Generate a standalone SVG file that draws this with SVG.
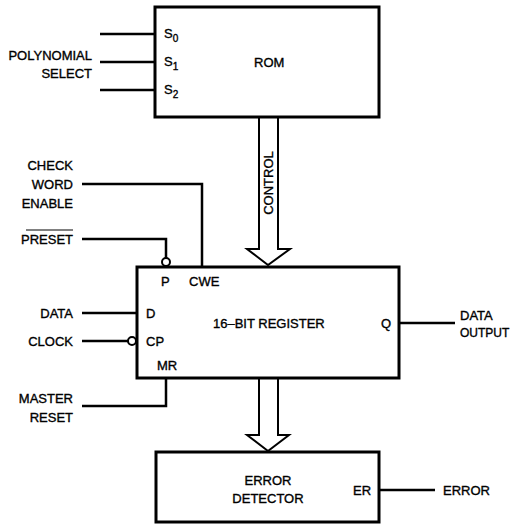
<svg xmlns="http://www.w3.org/2000/svg" width="513" height="528" viewBox="0 0 513 528">
<style>
text{font-family:"Liberation Sans",Arial,sans-serif;font-size:13px;fill:#000;stroke:#000;stroke-width:0.35}
.box{fill:#fff;stroke:#000;stroke-width:3}
.w{fill:none;stroke:#000;stroke-width:2.5}
.bus{fill:#fff;stroke:#000;stroke-width:2}
.inv{fill:#fff;stroke:#000;stroke-width:2}
.e{text-anchor:end}
.m{text-anchor:middle}
.sub{font-size:10px}
.sm{font-size:12px}
</style>
<g id="connectors">
<line class="w" x1="100" y1="34" x2="155" y2="34"/>
<line class="w" x1="100" y1="62" x2="155" y2="62"/>
<line class="w" x1="100" y1="90" x2="155" y2="90"/>
<polyline class="w" points="82,184 202,184 202,267"/>
<polyline class="w" points="82,239 166,239 166,258"/>
<circle class="inv" cx="166" cy="262" r="4"/>
<line class="w" x1="82" y1="313" x2="137" y2="313"/>
<line class="w" x1="82" y1="341" x2="128" y2="341"/>
<circle class="inv" cx="132" cy="341" r="4"/>
<polyline class="w" points="166,378 166,406 82,406"/>
<line class="w" x1="399" y1="323" x2="455" y2="323"/>
<line class="w" x1="379" y1="490" x2="435" y2="490"/>
<polyline class="bus" points="259,117 259,249 247,249 268,265 290,249 278,249 278,117"/>
<polyline class="bus" points="259,378 259,435 247,435 268,451 289,435 278,435 278,378"/>
<text class="m" transform="translate(273,183) rotate(-90)">CONTROL</text>
</g>
<g id="rom">
<rect class="box" x="155" y="7" width="224" height="110"/>
<text x="164" y="38">S<tspan class="sub" dy="4">0</tspan></text>
<text x="164" y="66">S<tspan class="sub" dy="4">1</tspan></text>
<text x="164" y="94">S<tspan class="sub" dy="4">2</tspan></text>
<text x="254" y="67">ROM</text>
</g>
<g id="polynomial-select">
<text class="e" x="92" y="60">POLYNOMIAL</text>
<text class="e" x="92" y="78">SELECT</text>
</g>
<g id="check-word-enable">
<text class="e" x="73" y="170">CHECK</text>
<text class="e" x="73" y="189">WORD</text>
<text class="e" x="73" y="208">ENABLE</text>
</g>
<g id="preset">
<text class="e" x="73" y="244">PRESET</text>
<line x1="26" y1="230" x2="73" y2="230" stroke="#000" stroke-width="1"/>
</g>
<g id="register">
<rect class="box" x="137" y="267" width="262" height="111"/>
<text x="161" y="286">P</text>
<text x="189" y="286">CWE</text>
<text x="146" y="318">D</text>
<text x="146" y="346">CP</text>
<text x="157" y="370">MR</text>
<text x="213" y="328">16–BIT REGISTER</text>
<text x="381" y="328">Q</text>
</g>
<g id="data"><text class="e" x="73" y="318">DATA</text></g>
<g id="clock"><text class="e" x="73" y="346">CLOCK</text></g>
<g id="master-reset">
<text class="e" x="73" y="403">MASTER</text>
<text class="e" x="73" y="422">RESET</text>
</g>
<g id="data-output">
<text x="460" y="320">DATA</text>
<text class="sm" x="460" y="337">OUTPUT</text>
</g>
<g id="error-detector">
<rect class="box" x="156" y="452" width="223" height="70"/>
<text class="m" x="268" y="485">ERROR</text>
<text class="m" x="268" y="503">DETECTOR</text>
<text x="353" y="495">ER</text>
</g>
<g id="error"><text x="443" y="495">ERROR</text></g>
</svg>
